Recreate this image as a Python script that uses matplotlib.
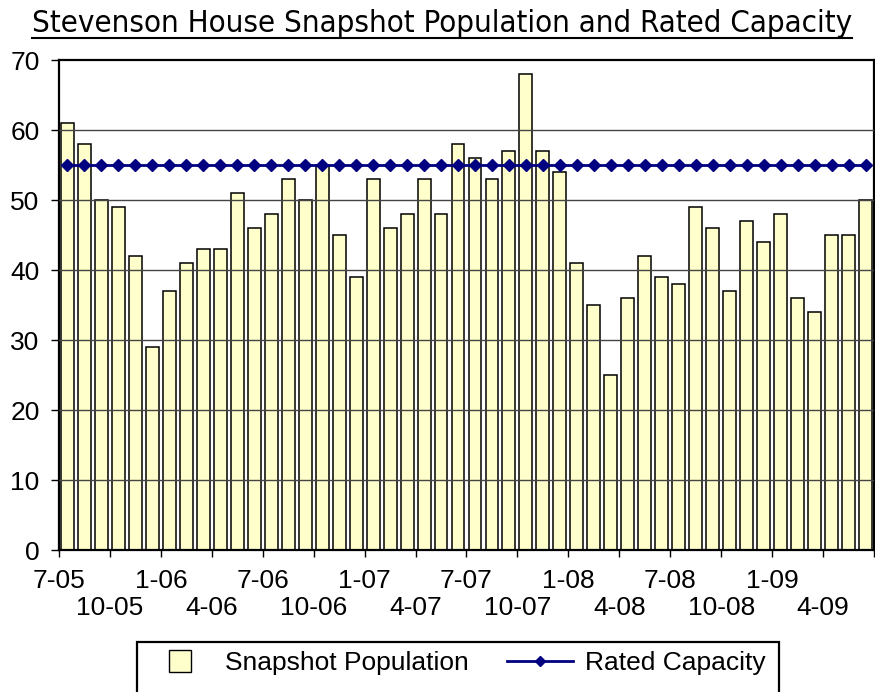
import numpy as np
import matplotlib
matplotlib.use("Agg")
import matplotlib.pyplot as plt
from matplotlib.lines import Line2D
from matplotlib.patches import Rectangle

# Monthly snapshot, 7-05 .. 6-09
population = [61, 58, 50, 49, 42, 29, 37, 41, 43, 43, 51, 46,
              48, 53, 50, 55, 45, 39, 53, 46, 48, 53, 48, 58,
              56, 53, 57, 68, 57, 54, 41, 35, 25, 36, 42, 39,
              38, 49, 46, 37, 47, 44, 48, 36, 34, 45, 45, 50]
rated_capacity = [55] * 48

# labels every 3 months, upper row / lower row
upper_labels = ['7-05', '1-06', '7-06', '1-07', '7-07', '1-08', '7-08', '1-09', '']
lower_labels = ['10-05', '4-06', '10-06', '4-07', '10-07', '4-08', '10-08', '4-09']

W, H = 875, 692
fig = plt.figure(figsize=(W / 100, H / 100), dpi=100)
ax = fig.add_axes([59 / W, (H - 550) / H, (874 - 59) / W, 490 / H])

x = np.arange(len(population)) + 0.5
ax.bar(x, population, width=0.76, color='#FFFFCC', edgecolor='black',
       linewidth=1.1, zorder=2)
ax.plot(x, rated_capacity, color='#000080', linewidth=2, marker='D',
        markersize=6.5, zorder=4)

ax.set_xlim(0, len(population))
ax.set_ylim(0, 70)
ax.set_yticks(range(0, 71, 10))
for y in range(10, 70, 10):
    ax.axhline(y, color='#444444', linewidth=1, zorder=3)

ax.set_xticks(np.arange(0, 49, 6))
ax.set_xticklabels(upper_labels)
ax.set_xticks(np.arange(3, 48, 6), minor=True)
ax.set_xticklabels(lower_labels, minor=True)

tick_font = 'Liberation Sans'
for lab in ax.get_xticklabels(which='both') + ax.get_yticklabels():
    lab.set_fontfamily(tick_font)
    lab.set_fontsize(19)
ax.tick_params(axis='x', which='major', direction='out', length=5, width=1, pad=9)
ax.tick_params(axis='x', which='minor', direction='out', length=5, width=1, pad=28)
ax.tick_params(axis='y', direction='out', length=6, width=1, pad=8)

for s in ax.spines.values():
    s.set_color('black')
    s.set_linewidth(1.6)

# title, underlined
t = fig.text(442 / W, 1 - 32 / H, 'Stevenson House Snapshot Population and Rated Capacity',
             ha='center', va='baseline', fontsize=22.4, family='DejaVu Sans',
             fontstretch='condensed')
fig.canvas.draw()
bb = t.get_window_extent()
fig.add_artist(Line2D([bb.x0 / W, bb.x1 / W], [1 - 38 / H, 1 - 38 / H],
                      color='black', linewidth=1.5, transform=fig.transFigure))

# legend box, running off the bottom edge
fig.add_artist(Rectangle((137 / W, -0.05), (779 - 137) / W, 0.05 + (H - 642) / H,
                         transform=fig.transFigure, fill=False,
                         edgecolor='black', linewidth=1.6))
handles = [Line2D([], [], marker='s', linestyle='none', markersize=16.5,
                  markerfacecolor='#FFFFCC', markeredgecolor='black', markeredgewidth=1),
           Line2D([], [], color='#000080', linewidth=2, marker='D', markersize=5)]
fig.legend(handles, ['Snapshot Population', 'Rated Capacity'], ncol=2,
           loc='center left', bbox_to_anchor=(147 / W, 1 - 663 / H),
           frameon=False, borderpad=0, borderaxespad=0,
           handlelength=2.5, handletextpad=0.45, columnspacing=1.45,
           prop={'family': tick_font, 'size': 19})

fig.savefig('out.png', dpi=100)
